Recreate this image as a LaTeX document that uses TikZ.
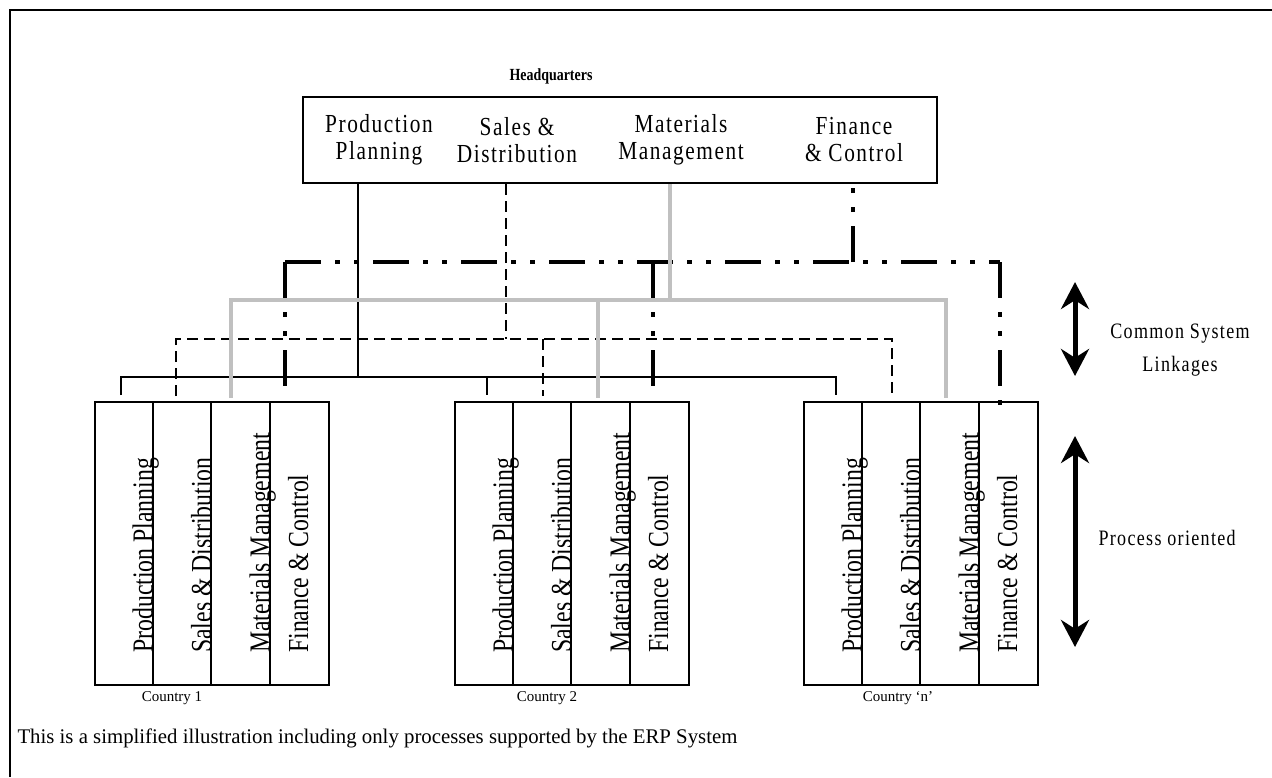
\documentclass[tikz,border=0pt]{standalone}
\usepackage{fontspec}
\setmainfont{Liberation Serif}
\newfontfamily\narrowfont[FakeStretch=0.82]{Liberation Serif}
\newfontfamily\spacedfont[FakeStretch=0.82,LetterSpace=6]{Liberation Serif}
\usetikzlibrary{arrows.meta}
\definecolor{linkgray}{RGB}{192,192,192}

\tikzset{
  frameline/.style={line width=2.5pt},
  boxline/.style={draw,line width=2pt},
  ppline/.style={line width=2pt},
  sdline/.style={line width=2.5pt,dash pattern=on 11pt off 6pt},
  mmline/.style={line width=4pt,linkgray},
  fcline/.style={line width=4.5pt,dash pattern=on 36pt off 14pt on 5pt off 14pt on 5pt off 14pt},
  hqlabel/.style={align=center,font=\spacedfont\fontsize{26}{27}\selectfont},
  vlabel/.style={rotate=90,anchor=base west,inner sep=0pt,font=\narrowfont\fontsize{29}{31}\selectfont},
  sidelabel/.style={align=center,font=\spacedfont\fontsize{22}{33}\selectfont},
  cname/.style={font=\fontsize{15}{17}\selectfont},
  bigarrow/.style={line width=5pt,{Stealth[length=27pt,width=28pt]}-{Stealth[length=27pt,width=28pt]}}
}

\begin{document}
\begin{tikzpicture}[x=1pt,y=-1pt]
  \useasboundingbox (0,0) rectangle (1272,777);
  \draw[frameline] (10,777) -- (10,10) -- (1272,10);

  % headquarters
  \node[font=\narrowfont\bfseries\fontsize{17}{19}\selectfont] (hqtitle) at (551,76) {Headquarters};
  \node[boxline,minimum width=634pt,minimum height=86pt] (hq) at (620,140) {};
  \node[hqlabel] (hqpp) at (379,140) {Production\\Planning};
  \node[hqlabel] (hqsd) at (517,140) {Sales \&\\Distribution};
  \node[hqlabel] (hqmm) at (681,140) {Materials\\Management};
  \node[hqlabel] (hqfc) at (854,140) {Finance\\\& Control};

  % countries
  \foreach \n/\x in {1/94,2/454,3/803}{
    \node[boxline,anchor=north west,minimum width=234pt,minimum height=283pt] (country\n) at (\x,401) {};
    \foreach \k in {1,2,3}
      \draw[ppline] ([xshift={\k*58.5pt}]country\n.north west) -- ([xshift={\k*58.5pt}]country\n.south west);
    \node[vlabel] (pp\n) at (\x+58.5,653) {Production Planning};
    \node[vlabel] (sd\n) at (\x+117,653) {Sales \& Distribution};
    \node[vlabel] (mm\n) at (\x+175.5,653) {Materials Management};
    \node[vlabel] (fc\n) at (\x+214,653) {Finance \& Control};
  }
  \node[cname] (cname1) at (172,698) {Country 1};
  \node[cname] (cname2) at (547,698) {Country 2};
  \node[cname] (cname3) at (898,698) {Country `n'};

  % production planning links
  \coordinate (ppf) at (358,377);
  \coordinate (pp-a) at (121,395);
  \coordinate (pp-b) at (487,377);
  \coordinate (pp-c) at (836,377);
  \draw[ppline] (hq.south -| ppf) -- (ppf);
  \draw[ppline] (pp-a) |- (pp-c) -- ++(0,18);
  \draw[ppline] (pp-b) -- ++(0,18);

  % sales and distribution links
  \coordinate (sdf) at (506,339);
  \coordinate (sd-a) at (176,396);
  \coordinate (sd-b) at (543,339);
  \coordinate (sd-c) at (892,339);
  \draw[sdline] (hq.south -| sdf) -- (sdf);
  \draw[sdline] (sd-a) |- (sd-c) -- ++(0,57);
  \draw[sdline] (sd-b) -- ++(0,57);

  % finance and control links
  \coordinate (fcf) at (853,262);
  \coordinate (fc-a) at (285,262);
  \coordinate (fc-b) at (653,262);
  \coordinate (fc-c) at (1000,262);
  \draw[fcline] (fcf) -- (hq.south -| fcf);
  \draw[fcline] (fc-a) -- (fc-c);
  \draw[fcline] (fc-a) -- ++(0,133);
  \draw[fcline] (fc-b) -- ++(0,133);
  \draw[fcline] (fc-c) -- ++(0,148);

  % materials management links
  \coordinate (mmf) at (670,300);
  \coordinate (mm-a) at (231,398);
  \coordinate (mm-b) at (598,300);
  \coordinate (mm-c) at (946,300);
  \draw[mmline] (hq.south -| mmf) -- (mmf);
  \draw[mmline] (mm-a) |- (mm-c) -- ++(0,98);
  \draw[mmline] (mm-b) -- ++(0,98);

  % side arrows
  \coordinate (cs-top) at (1075,282);
  \coordinate (cs-bot) at (1075,376);
  \draw[bigarrow] (cs-top) -- (cs-bot);
  \node[sidelabel] (cslabel) at (1180,350) {Common System\\Linkages};
  \coordinate (po-top) at (1075,436);
  \coordinate (po-bot) at (1075,647);
  \draw[bigarrow] (po-top) -- (po-bot);
  \node[sidelabel,anchor=west] (polabel) at (1095,538) {Process oriented};

  \node[anchor=west,font=\fontsize{20.8}{23}\selectfont] (note) at (14,738) {This is a simplified illustration including only processes supported by the ERP System};
\end{tikzpicture}
\end{document}
